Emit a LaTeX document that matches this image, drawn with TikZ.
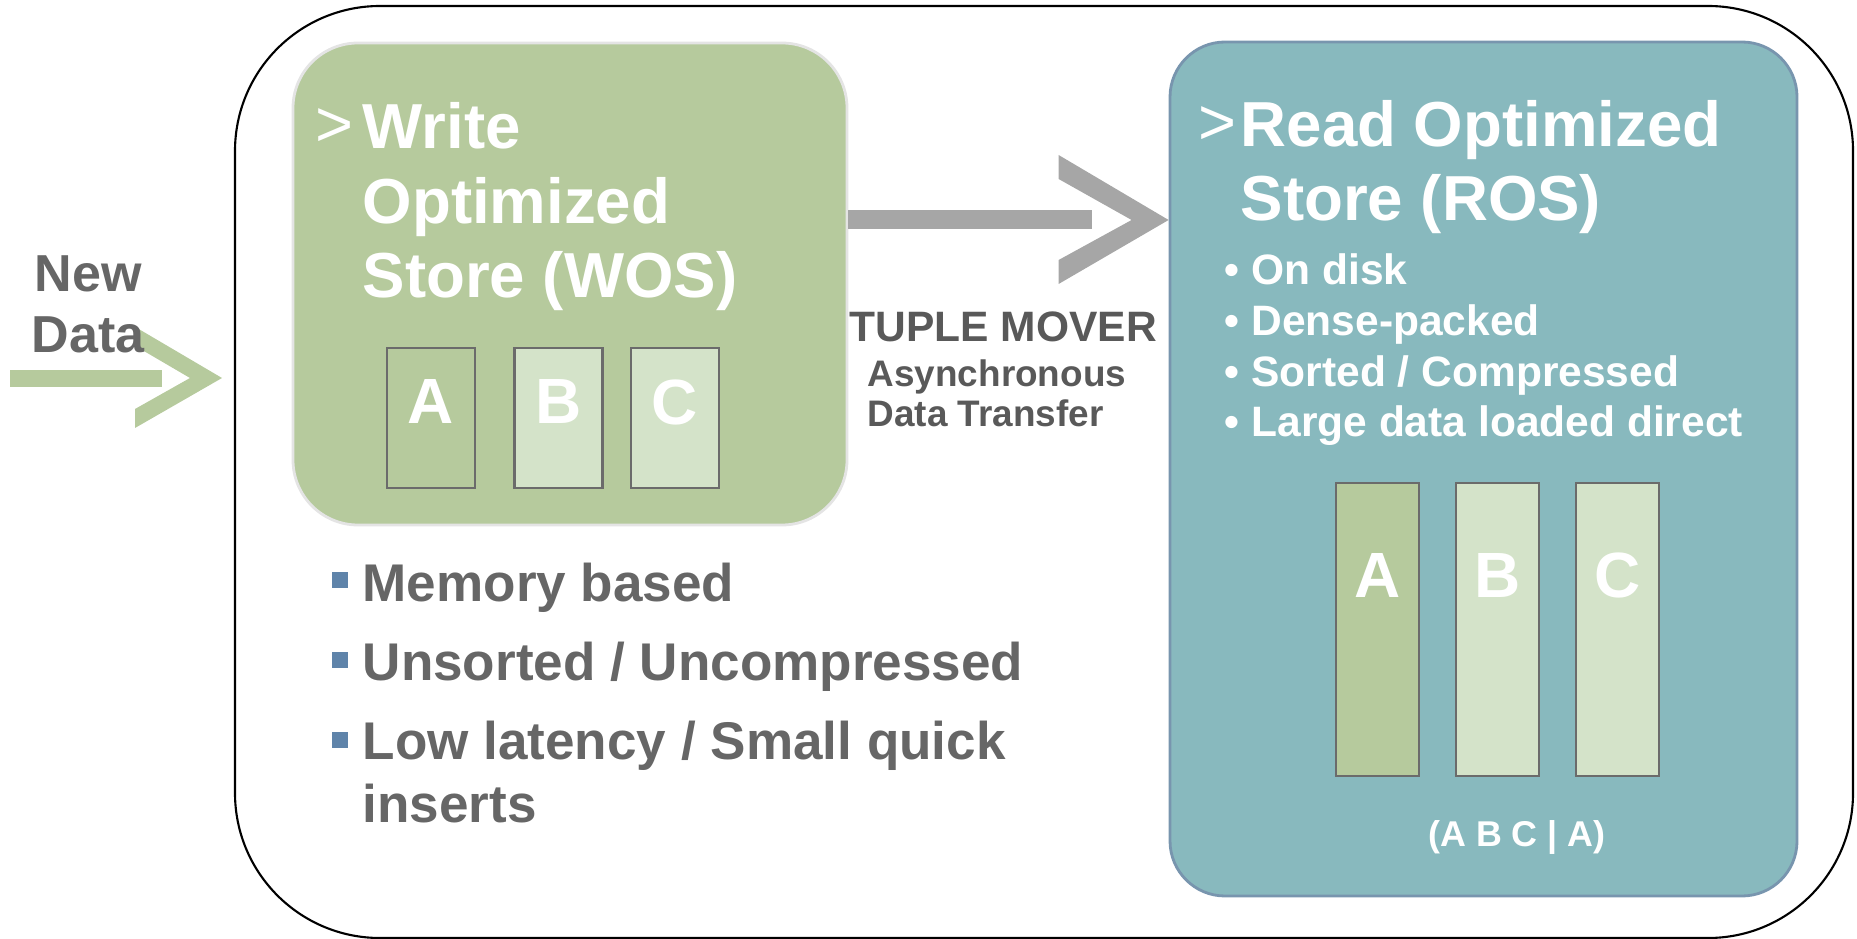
\documentclass[tikz,border=0pt]{standalone}
\usepackage{fontspec}
\setmainfont{Liberation Sans}
\usetikzlibrary{positioning}
\definecolor{wosgreen}{HTML}{B6CA9D}
\definecolor{palegreen}{HTML}{D4E3C9}
\definecolor{rosteal}{HTML}{88B9BE}
\definecolor{rosline}{HTML}{7895AE}
\definecolor{wosline}{HTML}{E4E4E4}
\definecolor{colline}{HTML}{6B6B6B}
\definecolor{movergrey}{HTML}{A6A6A6}
\definecolor{textgrey}{HTML}{666666}
\definecolor{darkgrey}{HTML}{595959}
\definecolor{sqblue}{HTML}{5F84AA}
\tikzset{
	sysframe/.style={draw,rounded corners=1.45cm,line width=0.6pt,minimum width=16.18cm,minimum height=9.32cm},
	store/.style={rectangle,line width=0.8pt,inner sep=0pt},
	col/.style={draw=colline,line width=0.6pt,inner sep=0pt,minimum width=0.88cm,minimum height=1.4cm},
	tallcol/.style={col,minimum width=0.83cm,minimum height=2.93cm},
	letter/.style={text=white,inner sep=0pt,font=\bfseries\fontsize{18.2}{18.2}\selectfont},
	title/.style={text=white,align=left,inner sep=0pt,anchor=base west,font=\bfseries\fontsize{18.1}{21.3}\selectfont},
	hang/.style={text=white,inner sep=0pt,anchor=base west,font=\fontsize{18.5}{18.5}\selectfont},
	roslist/.style={text=white,align=left,inner sep=0pt,anchor=base west,font=\bfseries\fontsize{12.1}{14.5}\selectfont},
	woslist/.style={text=textgrey,align=left,inner sep=0pt,anchor=base west,font=\bfseries\fontsize{15.1}{17.9}\selectfont},
	sq/.style={fill=sqblue,inner sep=0pt,minimum size=0.16cm},
	mover/.style={draw=movergrey,line width=0.19cm},
	feed/.style={draw=wosgreen,line width=0.17cm}
}
\begin{document}
\begin{tikzpicture}
	\useasboundingbox (0,0) rectangle (18.57,-9.39);
	\node[sysframe] (sys) at (10.44,-4.72) {};
	\node[store,fill=wosgreen,draw=wosline,rounded corners=0.65cm,minimum width=5.54cm,minimum height=4.82cm] (wos) at (5.70,-2.84) {};
	\node[store,fill=rosteal,draw=rosline,rounded corners=0.55cm,minimum width=6.27cm,minimum height=8.54cm] (ros) at (14.835,-4.69) {};

	% tuple mover arrow
	\coordinate (mv) at (10.92,-2.20);
	\draw[mover] (wos.east |- mv) -- (mv);
	\fill[movergrey] (ros.west |- mv) -- ++(-1.10,0.65) -- ++(0,-0.24) -- ++(0.73,-0.41)
		-- ++(-0.73,-0.40) -- ++(0,-0.24) -- cycle;

	% new data arrow
	\coordinate (feedtip) at (2.22,-3.78);
	\coordinate (src) at (0.10,-3.785);
	\draw[feed] (src) -- ([xshift=-0.60cm]feedtip |- src);
	\fill[wosgreen] (feedtip) -- ++(-0.85,0.50) -- ++(0,-0.19) -- ++(0.53,-0.31)
		-- ++(-0.55,-0.31) -- ++(0,-0.19) -- cycle;
	\node[align=center,inner sep=0pt,anchor=base,text=textgrey,font=\bfseries\fontsize{14.8}{17.6}\selectfont] (newdata) at (0.88,-3.53) {New\\Data};

	% write optimized store
	\node[hang] (wosmark) at (3.15,-1.47) {>};
	\node[title] (wostitle) at (3.62,-2.98) {Write\\Optimized\\Store (WOS)};
	\node[col,fill=wosgreen] (wa) at (4.31,-4.18) {};
	\node[col,fill=palegreen] (wb) at (5.585,-4.18) {};
	\node[col,fill=palegreen] (wc) at (6.75,-4.18) {};
	\node[letter] at ([yshift=0.16cm]wa.center) {A};
	\node[letter] at ([yshift=0.16cm]wb.center) {B};
	\node[letter] at ([yshift=0.16cm]wc.center) {C};
	\foreach \y [count=\i] in {5.80,6.60,7.40}
		\node[sq] (sq\i) at (3.40,-\y) {};
	\node[woslist] (wosfacts) at (3.62,-8.22) {Memory based\\[4.5pt]Unsorted / Uncompressed\\[4.5pt]Low latency / Small quick\\inserts};

	\node[anchor=base west,inner sep=0pt,text=darkgrey,font=\bfseries\fontsize{12.1}{14.5}\selectfont] (tm) at (8.49,-3.42) {TUPLE MOVER};
	\node[anchor=base west,align=left,inner sep=0pt,text=darkgrey,font=\bfseries\fontsize{10.5}{11.4}\selectfont] (tmsub) at (8.67,-4.27) {Asynchronous\\Data Transfer};

	% read optimized store
	\node[hang] (rosmark) at (11.98,-1.45) {>};
	\node[title] (rostitle) at (12.40,-2.21) {Read Optimized\\Store (ROS)};
	\node[roslist] (rosfacts) at (12.24,-4.37) {• On disk\\• Dense-packed\\• Sorted / Compressed\\• Large data loaded direct};
	\node[tallcol,fill=wosgreen] (ra) at (13.775,-6.295) {};
	\node[tallcol,fill=palegreen,right=0.35cm of ra] (rb) {};
	\node[tallcol,fill=palegreen,right=0.35cm of rb] (rc) {};
	\node[letter] at ([yshift=0.545cm]ra.center) {A};
	\node[letter] at ([yshift=0.545cm]rb.center) {B};
	\node[letter] at ([yshift=0.545cm]rc.center) {C};
	\node[anchor=base,inner sep=0pt,text=white,font=\bfseries\fontsize{10.2}{10.2}\selectfont] (key) at (15.17,-8.46) {(A B C | A)};
\end{tikzpicture}
\end{document}
